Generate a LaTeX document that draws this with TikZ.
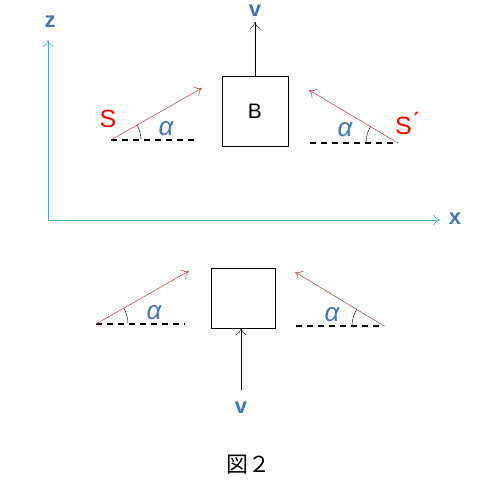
\documentclass[tikz,border=0pt]{standalone}
\usepackage{fontspec}
\setmainfont{Liberation Sans}
\newfontfamily\jpfont{Noto Sans CJK JP}
\usetikzlibrary{arrows.meta}
\definecolor{axiscol}{RGB}{75,172,198}
\definecolor{labcol}{RGB}{68,114,196}
\definecolor{raycol}{RGB}{192,80,77}
\tikzset{
  tip/.style={-{To[length=7pt,width=11pt]}},
  axis/.style={tip,axiscol,semithick},
  ray/.style={tip,raycol,semithick},
  ground/.style={black,line width=1.6pt,dash pattern=on 6pt off 5pt},
  lab/.style={labcol,font=\fontsize{22}{24}\selectfont\bfseries},
  ang/.style={labcol,font=\fontsize{26}{28}\selectfont\itshape},
  src/.style={red,font=\fontsize{25}{27}\selectfont},
  box/.style={draw,thin,minimum width=#1,minimum height=#1}
}
\begin{document}
\begin{tikzpicture}[x=1pt,y=-1pt]
\useasboundingbox (0,0) rectangle (482,481);
% axes
\coordinate (o) at (48,220);
\coordinate (zt) at (48,40);
\coordinate (xt) at (440,220);
\draw[axis](o)--(zt);
\draw[axis](o)--(xt);
\node[lab] (z) at (50,22){z};
\node[lab] (x) at (455,219){x};
% upper box
\node[box=66pt,minimum height=70pt] (b) at (255,111){};
\node[font=\fontsize{21}{23}\selectfont] (bl) at (255,111){B};
\coordinate (vt) at (255,22);
\draw[tip](b.north)--(vt);
\node[lab] (v) at (255,11){v};
% left source
\coordinate (s1) at (111,140);
\coordinate (s1e) at (198,140);
\coordinate (s1t) at (202,88);
\draw[ground](s1)--(s1e);
\draw[ray](s1)--(s1t);
\draw (s1)++(30,0) arc[start angle=0,end angle=-30,radius=30];
\node[src] (s) at (108,119){S};
\node[ang] (a1) at (166,129){α};
% right source
\coordinate (s2) at (398,143);
\coordinate (s2e) at (310,143);
\coordinate (s2t) at (309,90);
\draw[ground](s2e)--(s2);
\draw[ray](s2)--(s2t);
\draw (s2)++(-32,0) arc[start angle=180,end angle=211,radius=32];
\node[src] (s2l) at (407,123){S\'{}};
\node[ang] (a2) at (345,130){α};
% lower box
\node[box=64pt,minimum height=60pt] (c) at (243,298){};
\coordinate (vb) at (241,390);
\draw[tip](vb)--(c.south-|vb);
\node[lab] (w) at (241,408){v};
% lower left
\coordinate (s3) at (96,324);
\coordinate (s3e) at (185,324);
\coordinate (s3t) at (189,271);
\draw[ground](s3)--(s3e);
\draw[ray](s3)--(s3t);
\draw (s3)++(32,0) arc[start angle=0,end angle=-30,radius=32];
\node[ang] (a3) at (154,313){α};
% lower right
\coordinate (s4) at (384,326);
\coordinate (s4e) at (296,326);
\coordinate (s4t) at (295,272);
\draw[ground](s4e)--(s4);
\draw[ray](s4)--(s4t);
\draw (s4)++(-32,0) arc[start angle=180,end angle=212,radius=32];
\node[ang] (a4) at (332,315){α};
% caption
\node[font=\fontsize{22}{24}\selectfont] (cap) at (248,465){\jpfont 図２};
\end{tikzpicture}
\end{document}
